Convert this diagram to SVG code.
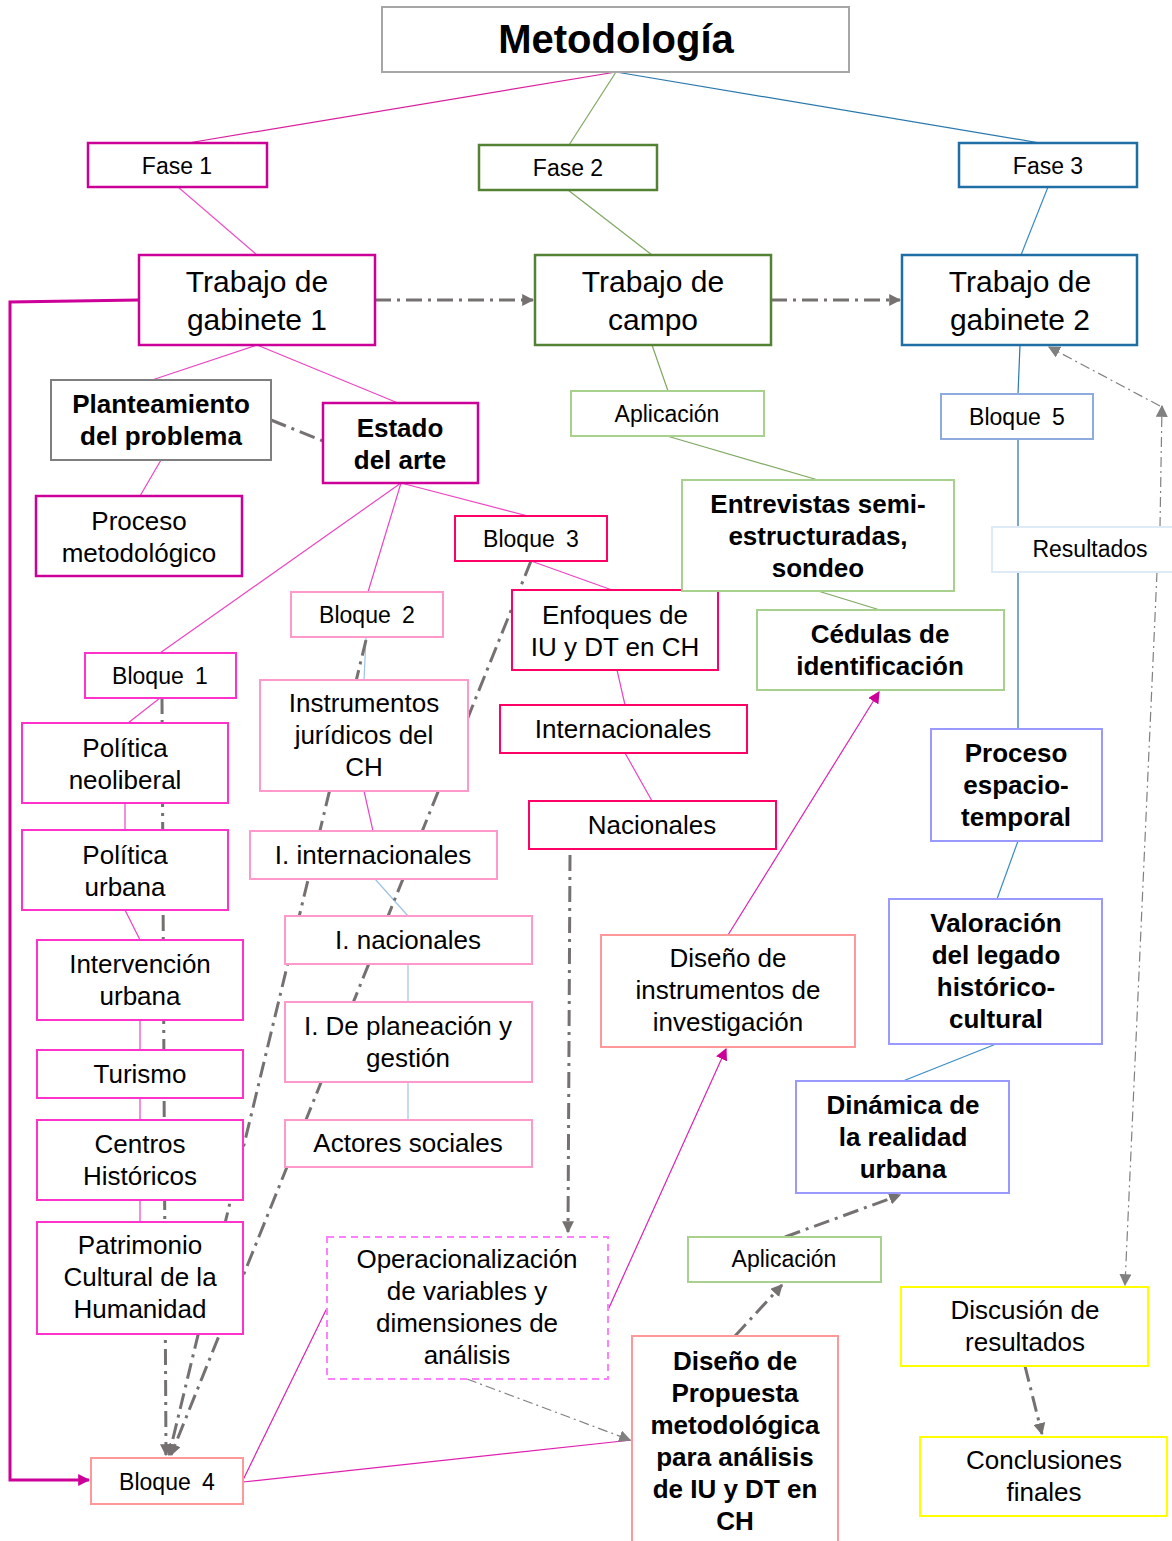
<svg xmlns="http://www.w3.org/2000/svg" width="1172" height="1541" viewBox="0 0 1172 1541">
<style>
text{font-family:"Liberation Sans",Arial,sans-serif;fill:#000;text-anchor:middle}
.r{font-size:26px}.b{font-size:26px;font-weight:bold}.s{font-size:23px}.t{font-size:30px}
rect{fill:#fff;stroke-width:2}
.mg{stroke:#cc0099;stroke-width:2.5}.p1{stroke:#ff33cc}.p2{stroke:#ff99cc}.p3{stroke:#ff0066}.p4{stroke:#ff9999}
.gd{stroke:#548235;stroke-width:2.5}.gl{stroke:#a9d18e}.bd{stroke:#1f6ea6;stroke-width:2.5}.bl{stroke:#8faadc}.lv{stroke:#9999ff}
.gr{stroke:#7f7f7f}.yl{stroke:#ffff00}
.c{fill:none;stroke-width:1.2}
.dd{fill:none;stroke:#767171;stroke-width:3;stroke-dasharray:16 6 3 6}
.dt{fill:none;stroke:#808080;stroke-width:1.2;stroke-dasharray:10 4 2 4}
</style>
<defs>
<marker id="ag" viewBox="0 0 10 10" refX="9" refY="5" markerWidth="4" markerHeight="4" orient="auto"><path d="M0,0L10,5L0,10z" fill="#767171"/></marker>
<marker id="at" viewBox="0 0 10 10" refX="9" refY="5" markerWidth="12" markerHeight="12" markerUnits="userSpaceOnUse" orient="auto"><path d="M0,0L10,5L0,10z" fill="#808080"/></marker>
<marker id="am" viewBox="0 0 10 10" refX="9" refY="5" markerWidth="12" markerHeight="12" markerUnits="userSpaceOnUse" orient="auto"><path d="M0,0L10,5L0,10z" fill="#cc0099"/></marker>
</defs>
<g id="connectors">
<line class="c" x1="616" y1="72" x2="188" y2="143" stroke="#d8219f"/>
<line class="c" x1="616" y1="72" x2="569" y2="145" stroke="#7fa860"/>
<line class="c" x1="616" y1="72" x2="1040" y2="143" stroke="#2a78ac"/>
<line class="c" x1="178" y1="187" x2="257" y2="255" stroke="#ee55c8"/>
<line class="c" x1="568" y1="190" x2="652" y2="255" stroke="#7fa860"/>
<line class="c" x1="1048" y1="187" x2="1021" y2="255" stroke="#3a8cc4"/>
<line class="dd" x1="375" y1="300" x2="533" y2="300" marker-end="url(#ag)"/>
<line class="dd" x1="771" y1="300" x2="900" y2="300" marker-end="url(#ag)"/>
<path d="M139,300L10,302L10,1480L89,1480" fill="none" stroke="#cc0099" stroke-width="3" marker-end="url(#am)"/>
<line class="c" x1="257" y1="345" x2="152" y2="380" stroke="#ee44c0"/>
<line class="c" x1="257" y1="345" x2="398" y2="403" stroke="#ee44c0"/>
<line class="dd" x1="271" y1="420" x2="323" y2="441"/>
<line class="c" x1="161" y1="460" x2="140" y2="496" stroke="#ee44c0"/>
<line class="c" x1="401" y1="483" x2="160" y2="653" stroke="#ee44c0"/>
<line class="c" x1="401" y1="483" x2="368" y2="592" stroke="#ee44c0"/>
<line class="c" x1="401" y1="483" x2="528" y2="516" stroke="#ee44c0"/>
<line class="c" x1="531" y1="561" x2="612" y2="590" stroke="#ee44c0"/>
<line class="c" x1="617" y1="670" x2="625" y2="705" stroke="#ee44c0"/>
<line class="c" x1="625" y1="753" x2="652" y2="801" stroke="#ee44c0"/>
<line class="c" x1="366" y1="637" x2="364" y2="680" stroke="#9dc3e6"/>
<line class="c" x1="364" y1="791" x2="373" y2="831" stroke="#ee44c0"/>
<line class="c" x1="375" y1="879" x2="408" y2="916" stroke="#9dc3e6"/>
<line class="c" x1="408" y1="964" x2="408" y2="1002" stroke="#9dc3e6"/>
<line class="c" x1="408" y1="1082" x2="408" y2="1120" stroke="#9dc3e6"/>
<line class="c" x1="160" y1="698" x2="128" y2="723" stroke="#ee44c0"/>
<line class="c" x1="125" y1="803" x2="125" y2="830" stroke="#ee44c0"/>
<line class="c" x1="125" y1="910" x2="140" y2="940" stroke="#ee44c0"/>
<line class="c" x1="140" y1="1020" x2="140" y2="1050" stroke="#ee44c0"/>
<line class="c" x1="140" y1="1098" x2="140" y2="1120" stroke="#ee44c0"/>
<line class="c" x1="140" y1="1200" x2="140" y2="1222" stroke="#ee44c0"/>
<line class="dd" x1="162" y1="698" x2="166" y2="1455" marker-end="url(#ag)"/>
<line class="dd" x1="366" y1="640" x2="169" y2="1455" marker-end="url(#ag)"/>
<line class="dd" x1="531" y1="561" x2="171" y2="1455" marker-end="url(#ag)"/>
<line class="dd" x1="570" y1="855" x2="568" y2="1232" marker-end="url(#ag)"/>
<line class="c" x1="243" y1="1480" x2="327" y2="1308" stroke="#e020b0"/>
<line class="c" x1="243" y1="1482" x2="632" y2="1440" stroke="#e020b0"/>
<line class="dt" x1="467" y1="1379" x2="630" y2="1440" marker-end="url(#at)"/>
<line class="c" x1="608" y1="1310" x2="726" y2="1049" stroke="#e020b0" marker-end="url(#am)"/>
<line class="c" x1="728" y1="935" x2="879" y2="692" stroke="#e020b0" marker-end="url(#am)"/>
<line class="c" x1="652" y1="345" x2="668" y2="391" stroke="#7fa860"/>
<line class="c" x1="667" y1="436" x2="818" y2="480" stroke="#7fa860"/>
<line class="c" x1="818" y1="591" x2="880" y2="610" stroke="#7fa860"/>
<line class="c" x1="1020" y1="345" x2="1018" y2="394" stroke="#2a78ac"/>
<line class="c" x1="1018" y1="439" x2="1018" y2="729" stroke="#1f6ea6"/>
<line class="c" x1="1018" y1="841" x2="997" y2="899" stroke="#3a8cc4"/>
<line class="c" x1="996" y1="1044" x2="903" y2="1081" stroke="#3a8cc4"/>
<line class="dd" x1="735" y1="1336" x2="782" y2="1285" marker-end="url(#ag)"/>
<line class="dd" x1="785" y1="1237" x2="900" y2="1195" marker-end="url(#ag)"/>
<line class="dd" x1="1025" y1="1366" x2="1042" y2="1434" marker-end="url(#ag)"/>
<line class="dt" x1="1160" y1="527" x2="1162" y2="406" marker-end="url(#at)"/>
<line class="dt" x1="1160" y1="406" x2="1049" y2="347" marker-end="url(#at)"/>
<line class="dt" x1="1157" y1="572" x2="1125" y2="1285" marker-end="url(#at)"/>
</g>
<g id="n-metodologia"><rect x="382" y="7" width="467" height="65" stroke="#a6a6a6"/><text x="616" y="53" font-size="40" font-weight="bold">Metodología</text></g>
<g id="n-fase1"><rect class="mg" x="88" y="143" width="179" height="44"/><text class="s" x="177" y="174">Fase 1</text></g>
<g id="n-fase2"><rect class="gd" x="479" y="145" width="178" height="45"/><text class="s" x="568" y="176">Fase 2</text></g>
<g id="n-fase3"><rect class="bd" x="959" y="143" width="178" height="44"/><text class="s" x="1048" y="174">Fase 3</text></g>
<g id="n-tg1"><rect class="mg" x="139" y="255" width="236" height="90"/><text class="t" x="257" y="292">Trabajo de</text><text class="t" x="257" y="330">gabinete 1</text></g>
<g id="n-tc"><rect class="gd" x="535" y="255" width="236" height="90"/><text class="t" x="653" y="292">Trabajo de</text><text class="t" x="653" y="330">campo</text></g>
<g id="n-tg2"><rect class="bd" x="902" y="255" width="235" height="90"/><text class="t" x="1020" y="292">Trabajo de</text><text class="t" x="1020" y="330">gabinete 2</text></g>
<g id="n-planteamiento"><rect class="gr" x="51" y="380" width="220" height="80"/><text class="b" x="161" y="413">Planteamiento</text><text class="b" x="161" y="445">del problema</text></g>
<g id="n-estado"><rect class="mg" x="323" y="403" width="155" height="80"/><text class="b" x="400" y="437">Estado</text><text class="b" x="400" y="469">del arte</text></g>
<g id="n-proceso-met"><rect class="mg" x="36" y="496" width="206" height="80"/><text class="r" x="139" y="530">Proceso</text><text class="r" x="139" y="562">metodológico</text></g>
<g id="n-bloque3"><rect class="p3" x="455" y="516" width="152" height="45"/><text class="s" x="531" y="547" word-spacing="5">Bloque 3</text></g>
<g id="n-bloque2"><rect class="p2" x="291" y="592" width="152" height="45"/><text class="s" x="367" y="623" word-spacing="5">Bloque 2</text></g>
<g id="n-bloque1"><rect class="p1" x="85" y="653" width="151" height="45"/><text class="s" x="160" y="684" word-spacing="5">Bloque 1</text></g>
<g id="n-enfoques"><rect class="p3" x="512" y="590" width="206" height="80"/><text class="r" x="615" y="624">Enfoques de</text><text class="r" x="615" y="656">IU y DT en CH</text></g>
<g id="n-internacionales"><rect class="p3" x="500" y="705" width="247" height="48"/><text class="r" x="623" y="738">Internacionales</text></g>
<g id="n-nacionales"><rect class="p3" x="529" y="801" width="247" height="48"/><text class="r" x="652" y="834">Nacionales</text></g>
<g id="n-instrumentos"><rect class="p2" x="260" y="680" width="208" height="111"/><text class="r" x="364" y="712">Instrumentos</text><text class="r" x="364" y="744">jurídicos del</text><text class="r" x="364" y="776">CH</text></g>
<g id="n-i-internacionales"><rect class="p2" x="250" y="831" width="247" height="48"/><text class="r" x="373" y="864">I. internacionales</text></g>
<g id="n-i-nacionales"><rect class="p2" x="285" y="916" width="247" height="48"/><text class="r" x="408" y="949">I. nacionales</text></g>
<g id="n-i-planeacion"><rect class="p2" x="285" y="1002" width="247" height="80"/><text class="r" x="408" y="1035">I. De planeación y</text><text class="r" x="408" y="1067">gestión</text></g>
<g id="n-actores"><rect class="p2" x="285" y="1120" width="247" height="47"/><text class="r" x="408" y="1152">Actores sociales</text></g>
<g id="n-pol-neoliberal"><rect class="p1" x="22" y="723" width="206" height="80"/><text class="r" x="125" y="757">Política</text><text class="r" x="125" y="789">neoliberal</text></g>
<g id="n-pol-urbana"><rect class="p1" x="22" y="830" width="206" height="80"/><text class="r" x="125" y="864">Política</text><text class="r" x="125" y="896">urbana</text></g>
<g id="n-intervencion"><rect class="p1" x="37" y="940" width="206" height="80"/><text class="r" x="140" y="973">Intervención</text><text class="r" x="140" y="1005">urbana</text></g>
<g id="n-turismo"><rect class="p1" x="37" y="1050" width="206" height="48"/><text class="r" x="140" y="1083">Turismo</text></g>
<g id="n-centros"><rect class="p1" x="37" y="1120" width="206" height="80"/><text class="r" x="140" y="1153">Centros</text><text class="r" x="140" y="1185">Históricos</text></g>
<g id="n-patrimonio"><rect class="p1" x="37" y="1222" width="206" height="112"/><text class="r" x="140" y="1254">Patrimonio</text><text class="r" x="140" y="1286">Cultural de la</text><text class="r" x="140" y="1318">Humanidad</text></g>
<g id="n-bloque4"><rect class="p4" x="91" y="1458" width="152" height="46"/><text class="s" x="167" y="1490" word-spacing="5">Bloque 4</text></g>
<g id="n-operacionalizacion"><rect x="327" y="1237" width="281" height="142" stroke="#ff80ff" stroke-dasharray="7 5"/><text class="r" x="467" y="1268">Operacionalización</text><text class="r" x="467" y="1300">de variables y</text><text class="r" x="467" y="1332">dimensiones de</text><text class="r" x="467" y="1364">análisis</text></g>
<g id="n-diseno-instr"><rect class="p4" x="601" y="935" width="254" height="112"/><text class="r" x="728" y="967">Diseño de</text><text class="r" x="728" y="999">instrumentos de</text><text class="r" x="728" y="1031">investigación</text></g>
<g id="n-diseno-prop"><rect class="p4" x="632" y="1336" width="206" height="215"/><text class="b" x="735" y="1370">Diseño de</text><text class="b" x="735" y="1402">Propuesta</text><text class="b" x="735" y="1434">metodológica</text><text class="b" x="735" y="1466">para análisis</text><text class="b" x="735" y="1498">de IU y DT en</text><text class="b" x="735" y="1530">CH</text></g>
<g id="n-aplicacion2"><rect class="gl" x="688" y="1237" width="193" height="45"/><text class="s" x="784" y="1267">Aplicación</text></g>
<g id="n-aplicacion1"><rect class="gl" x="571" y="391" width="193" height="45"/><text class="s" x="667" y="422">Aplicación</text></g>
<g id="n-entrevistas"><rect class="gl" x="682" y="480" width="272" height="111"/><text class="b" x="818" y="513">Entrevistas semi-</text><text class="b" x="818" y="545">estructuradas,</text><text class="b" x="818" y="577">sondeo</text></g>
<g id="n-cedulas"><rect class="gl" x="757" y="610" width="247" height="80"/><text class="b" x="880" y="643">Cédulas de</text><text class="b" x="880" y="675">identificación</text></g>
<g id="n-bloque5"><rect class="bl" x="941" y="394" width="152" height="45"/><text class="s" x="1017" y="425" word-spacing="5">Bloque 5</text></g>
<g id="n-resultados"><rect x="992" y="527" width="190" height="45" stroke="#deebf7"/><text class="s" x="1090" y="557">Resultados</text></g>
<g id="n-proceso-esp"><rect class="lv" x="931" y="729" width="171" height="112"/><text class="b" x="1016" y="762">Proceso</text><text class="b" x="1016" y="794">espacio-</text><text class="b" x="1016" y="826">temporal</text></g>
<g id="n-valoracion"><rect class="lv" x="889" y="899" width="213" height="145"/><text class="b" x="996" y="932">Valoración</text><text class="b" x="996" y="964">del legado</text><text class="b" x="996" y="996">histórico-</text><text class="b" x="996" y="1028">cultural</text></g>
<g id="n-dinamica"><rect class="lv" x="796" y="1081" width="213" height="112"/><text class="b" x="903" y="1114">Dinámica de</text><text class="b" x="903" y="1146">la realidad</text><text class="b" x="903" y="1178">urbana</text></g>
<g id="n-discusion"><rect class="yl" x="901" y="1287" width="247" height="79"/><text class="r" x="1025" y="1319">Discusión de</text><text class="r" x="1025" y="1351">resultados</text></g>
<g id="n-conclusiones"><rect class="yl" x="920" y="1437" width="247" height="79"/><text class="r" x="1044" y="1469">Conclusiones</text><text class="r" x="1044" y="1501">finales</text></g>
</svg>
